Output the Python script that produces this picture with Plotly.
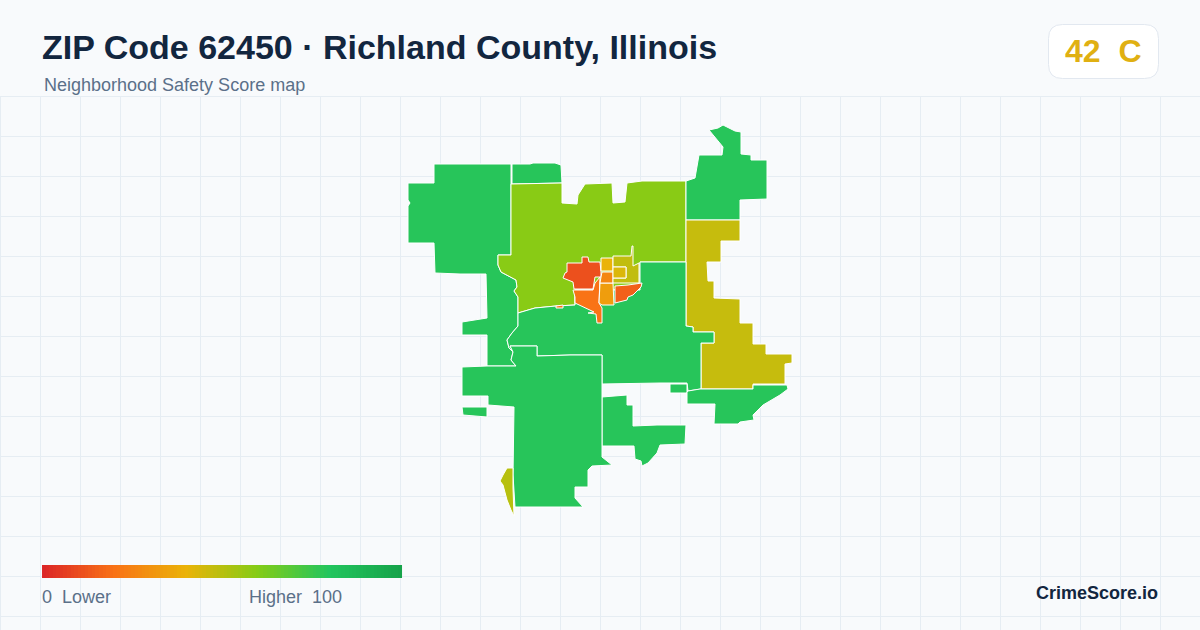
#!/usr/bin/python3
import plotly.graph_objects as go
from plotly.colors import sample_colorscale

W = 1200
H = 630
TOP = 96  # the map panel and its grid start under the header

title = "ZIP Code 62450 · Richland County, Illinois"
subtitle = "Neighborhood Safety Score map"
grade = "42  C"
legend_low = "0  Lower"
legend_high = "Higher  100"
brand = "CrimeScore.io"

score_scale = [[0.0, "#dc2626"], [0.2, "#f97316"], [0.4, "#eab308"],
               [0.6, "#84cc16"], [0.8, "#22c55e"], [1.0, "#16a34a"]]
legend_scores = [[i for i in range(101)]]

# outlines, in map units
west = [(434,164),(511,164),(511,255),(498,255),(498,265),(501,272),(516,280),(517,287),(514,291),(518,297),
        (518,326),(512,333),(507,340),(509,348),(513,352),(511,360),(516,366),(487,366),(487,335),(462,335),
        (462,322),(487,318),(486,274),(460,274),(435,273),(434,243),(408,243),(408,206),(410,203),(408,200),(408,183),(434,183)]
north_strip = [(512,164),(530,164),(533,163),(555,163),(561,165),(562,183),(512,184)]
north = [(511,184),(562,183),(562,203),(577,204),(578,195),(582,188),(585,184),(612,183),(613,203),(625,202),
         (627,183),(642,181),(686,181),(686,262),(640,262),(640,290),(575,290),(575,305),(556,306),(535,308),
         (518,313),(518,297),(514,291),(517,287),(516,280),(501,272),(498,265),(498,255),(511,255)]
northeast = [(686,181),(695,178),(699,155),(722,155),(723,147),(709,130),(718,128),(723,125),(735,131),(741,132),
             (741,154),(751,155),(751,160),(767,160),(767,199),(740,200),(740,220),(686,220)]
east = [(686,220),(740,220),(740,241),(721,241),(721,262),(707,262),(708,281),(714,281),(714,298),(740,299),
        (740,323),(753,323),(753,344),(766,344),(766,354),(792,354),(792,363),(785,364),(785,384),(753,384),
        (753,389),(701,389),(701,343),(714,343),(714,332),(693,332),(693,327),(686,326)]
central = [(518,326),(518,313),(535,308),(556,306),(575,305),(575,290),(640,290),(640,262),(686,262),(686,326),
           (693,327),(693,332),(714,332),(714,343),(701,343),(701,389),(688,391),(687,383),(660,383),(602,384),
           (602,355),(570,355),(537,356),(537,346),(510,346),(513,352),(509,348),(507,340),(512,333)]
central_box = [(670,384),(687,384),(687,393),(670,393)]
southeast = [(687,392),(688,391),(700,389),(753,389),(753,385),(787,385),(788,389),(780,395),(763,405),(753,415),
             (754,420),(740,422),(738,424),(714,424),(715,404),(687,404)]
south_mid = [(602,397),(627,395),(627,405),(633,405),(633,426),(657,425),(686,425),(685,444),(660,445),(657,453),
             (648,463),(642,466),(641,461),(635,459),(634,446),(602,446)]
south = [(516,366),(511,360),(513,352),(510,346),(537,346),(537,356),(570,355),(602,355),(602,457),(612,465),
         (592,466),(588,470),(588,487),(575,487),(575,498),(583,507),(515,507),(513,475),(514,407),(502,406),
         (488,405),(488,396),(462,396),(462,367),(487,366)]
southwest_bit = [(462,407),(487,407),(487,417),(475,416),(463,415)]
sliver = [(507,468),(513,468),(513,488),(514,516),(511,510),(507,500),(503,485),(500,481),(503,475)]
town_west = [(567,263),(582,263),(582,257),(588,257),(589,262),(600,262),(601,272),(601,277),(595,277),(594,285),
             (593,289),(574,289),(573,282),(563,278),(565,273),(567,272)]
town_southwest = [(574,290),(593,290),(595,283),(600,277),(599,303),(602,308),(602,323),(597,323),(596,314),(588,313),
                  (594,312),(585,308),(575,303),(575,297),(573,290)]
town_speck = [(556,306),(563,305),(563,308),(556,308)]
town_mid = [(600,283),(613,283),(614,305),(602,305),(599,303)]
town_core = [(602,272),(613,272),(613,283),(600,283),(601,277)]
town_north = [(601,258),(613,258),(613,271),(601,271)]
town_northeast = [(613,256),(631,256),(632,246),(633,246),(633,266),(639,263),(639,283),(613,283),(613,278),(626,278),
                  (626,267),(613,267)]
town_inner = [(613,267),(626,267),(626,278),(613,278)]
town_east = [(615,286),(628,285),(642,283),(641,287),(633,295),(628,297),(627,300),(615,303)]

region_shapes = [west, north_strip, north, northeast, east, central, central_box, southeast, south_mid, south,
                 southwest_bit, sliver, town_west, town_southwest, town_speck, town_mid, town_core, town_north,
                 town_northeast, town_inner, town_east]
region_scores = [79, 79, 59, 79, 47, 79, 79, 79, 79, 79,
                 79, 50, 11, 20, 20, 33, 26, 40,
                 48, 43, 15]

fig = go.Figure()

for shape, score in zip(region_shapes, region_scores):
    color = sample_colorscale(score_scale, score / 100)[0]
    xs = [p[0] for p in shape] + [shape[0][0]]
    ys = [p[1] for p in shape] + [shape[0][1]]
    fig.add_trace(go.Scatter(x=xs, y=ys, mode="lines", fill="toself", fillcolor=color,
                             line=dict(color="#ffffff", width=1), hoverinfo="skip", showlegend=False))

# legend bar
fig.add_trace(go.Heatmap(z=legend_scores, x0=42 + 1.8, dx=3.564, y0=571.5, dy=13, zmin=0, zmax=100,
                         colorscale=score_scale, showscale=False, hoverinfo="skip"))

grid = "#e6edf3"
fig.update_layout(
    width=W, height=H,
    margin=dict(l=0, r=0, t=0, b=0),
    paper_bgcolor="#f8fafc",
    plot_bgcolor="#f8fafc",
    showlegend=False,
    font=dict(family="Liberation Sans"),
    xaxis=dict(range=[0, W], tick0=0.5, dtick=40, showgrid=True, gridcolor=grid, gridwidth=1,
               zeroline=False, showticklabels=False, ticks="", fixedrange=True),
    yaxis=dict(range=[H, TOP], domain=[0, (H - TOP) / H], tick0=TOP + 0.5, dtick=40, showgrid=True,
               gridcolor=grid, gridwidth=1, zeroline=False, showticklabels=False, ticks="", fixedrange=True),
)

# first grid lines sit on the panel edge, plotly drops those
fig.add_shape(type="line", xref="paper", yref="paper", x0=0, x1=1, y0=1 - (TOP + 0.5) / H, y1=1 - (TOP + 0.5) / H,
              line=dict(color=grid, width=1), layer="below")
fig.add_shape(type="line", xref="paper", yref="paper", x0=0.5 / W, x1=0.5 / W, y0=0, y1=1 - (TOP + 0.5) / H,
              line=dict(color=grid, width=1), layer="below")


def rounded(x0, y0, x1, y1, r):
    # rounded box path in paper coordinates, corners given in pixels
    px = lambda x: x / W
    py = lambda y: 1 - y / H
    return (f"M {px(x0 + r)} {py(y0)} L {px(x1 - r)} {py(y0)} Q {px(x1)} {py(y0)} {px(x1)} {py(y0 + r)} "
            f"L {px(x1)} {py(y1 - r)} Q {px(x1)} {py(y1)} {px(x1 - r)} {py(y1)} "
            f"L {px(x0 + r)} {py(y1)} Q {px(x0)} {py(y1)} {px(x0)} {py(y1 - r)} "
            f"L {px(x0)} {py(y0 + r)} Q {px(x0)} {py(y0)} {px(x0 + r)} {py(y0)} Z")


# grade badge
fig.add_shape(type="path", xref="paper", yref="paper", path=rounded(1048.5, 24.5, 1158.5, 78.5, 14),
              fillcolor="#ffffff", line=dict(color="#e2e8f0", width=1))


def label(text, x, y, size, color, anchor="left", bold=False):
    if bold:
        text = "<b>" + text + "</b>"
    fig.add_annotation(text=text, xref="paper", yref="paper", x=x / W, y=1 - y / H, xanchor=anchor, yanchor="middle",
                       showarrow=False, font=dict(size=size, color=color), borderpad=0, borderwidth=0)


label(title, 42, 47, 34, "#12263f", bold=True)
label(subtitle, 44, 85, 18, "#5b7089")
label(grade, 1103, 51, 32, "#e0b012", anchor="center", bold=True)
label(legend_low, 42, 597, 18, "#5b7089")
label(legend_high, 249, 597, 18, "#5b7089")
label(brand, 1158, 593, 18, "#12263f", anchor="right", bold=True)

fig.write_html("out.html", config={"displayModeBar": False}, post_script="document.body.style.margin='0';")
